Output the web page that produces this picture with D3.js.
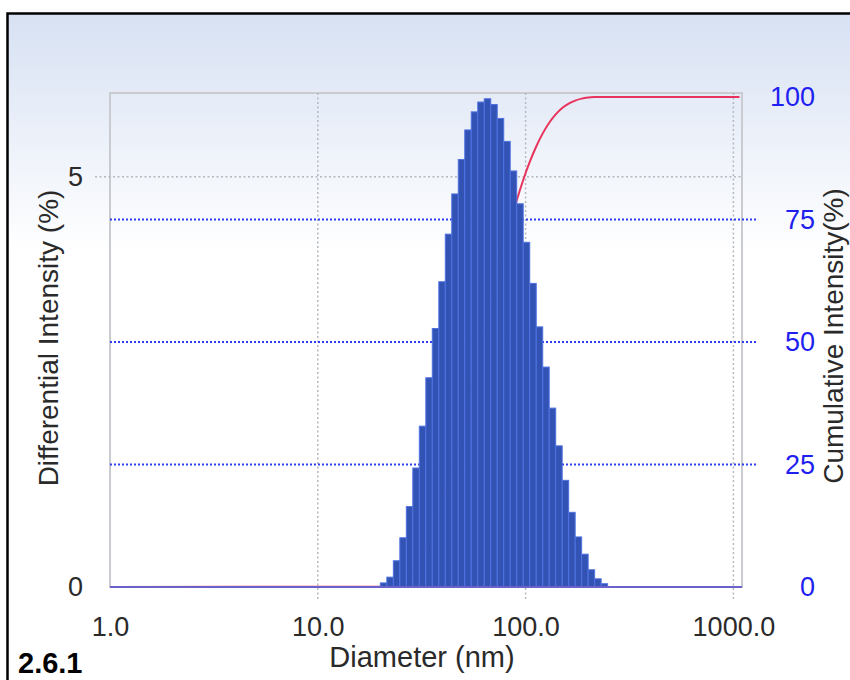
<!DOCTYPE html>
<html>
<head>
<meta charset="utf-8">
<script src="https://cdn.jsdelivr.net/npm/d3@7"></script>
<style>
  html, body { margin: 0; padding: 0; background: #ffffff; }
  svg { display: block; }
</style>
</head>
<body>
<svg id="chart" width="850" height="680"></svg>
<script>
// ---- data ----
// bin lower edges (nm); last entry is upper edge of the last bin
const binEdges = [20.0, 21.49, 23.10, 24.82, 26.67, 28.66, 30.80, 33.10, 35.56, 38.22,
  41.07, 44.13, 47.42, 50.96, 54.76, 58.85, 63.25, 67.96, 73.03, 78.48,
  84.34, 90.63, 97.39, 104.7, 112.5, 120.9, 129.9, 139.6, 150.0, 161.2,
  173.2, 186.1, 200.0, 214.9, 231.0, 248.2];
// differential intensity (%) per bin
const differential = [0.05, 0.12, 0.32, 0.60, 0.98, 1.45, 1.96, 2.55, 3.15, 3.72,
  4.30, 4.79, 5.21, 5.57, 5.79, 5.91, 5.95, 5.88, 5.71, 5.43,
  5.07, 4.67, 4.20, 3.70, 3.17, 2.68, 2.18, 1.72, 1.30, 0.91,
  0.61, 0.40, 0.21, 0.10, 0.04];
// cumulative intensity (%) curve
const cumDiameter = [1.0, 20.0, 21.49, 23.10, 24.82, 26.67, 28.66, 30.80, 33.10, 35.56, 38.22,
  41.07, 44.13, 47.42, 50.96, 54.76, 58.85, 63.25, 67.96, 73.03, 78.48,
  84.34, 90.63, 97.39, 104.7, 112.5, 120.9, 129.9, 139.6, 150.0, 161.2,
  173.2, 186.1, 200.0, 214.9, 231.0, 1070];
const cumulative = [0, 0.05, 0.17, 0.49, 1.09, 2.06, 3.51, 5.46, 8.00, 11.14, 14.84,
  19.12, 23.89, 29.08, 34.63, 40.40, 46.28, 52.21, 58.07, 63.75, 69.16,
  74.21, 78.86, 83.05, 86.73, 89.89, 92.56, 94.73, 96.44, 97.74, 98.64,
  99.25, 99.65, 99.86, 99.96, 100.0, 100.0];
const xTicks = [1, 10, 100, 1000];
const xTickLabels = ["1.0", "10.0", "100.0", "1000.0"];
const leftTicks = [0, 5];
const rightTicks = [0, 25, 50, 75, 100];
const xTitle = "Diameter (nm)";
const leftTitle = "Differential Intensity (%)";
const rightTitle = "Cumulative Intensity(%)";
const figLabel = "2.6.1";

// ---- layout ----
const svg = d3.select("#chart");
const L = 110, R = 742, T = 93, B = 587;
const font = "'Liberation Sans', Arial, sans-serif";

const x = d3.scaleLog().domain([1, 1100]).range([L, R]);
const yL = d3.scaleLinear().domain([0, 6.02]).range([B, T]);
const yR = d3.scaleLinear().domain([0, 100.8]).range([B, T]);

// background gradient
const defs = svg.append("defs");
const grad = defs.append("linearGradient").attr("id", "bg")
  .attr("x1", 0).attr("y1", 0).attr("x2", 0).attr("y2", 1);
grad.append("stop").attr("offset", "0%").attr("stop-color", "#d7e1f3");
grad.append("stop").attr("offset", "36%").attr("stop-color", "#ffffff");
grad.append("stop").attr("offset", "100%").attr("stop-color", "#ffffff");
svg.append("rect").attr("x", 7).attr("y", 13).attr("width", 843).attr("height", 667)
  .attr("fill", "url(#bg)");

// frame
svg.append("path").attr("d", "M7.5,680 V13.5 H850")
  .attr("fill", "none").attr("stroke", "#000").attr("stroke-width", 2.5);

// plot border
svg.append("rect").attr("x", L).attr("y", T).attr("width", R - L).attr("height", B - T)
  .attr("fill", "none").attr("stroke", "#c9cbd0").attr("stroke-width", 2);

// vertical gray dotted grid
svg.append("g").selectAll("line").data(xTicks.slice(1)).join("line")
  .attr("x1", d => x(d)).attr("x2", d => x(d))
  .attr("y1", T).attr("y2", B + 14)
  .attr("stroke", "#b4b8bf").attr("stroke-width", 1.5).attr("stroke-dasharray", "2,2.5");

// left axis gray dotted grid (5)
svg.append("g").selectAll("line").data(leftTicks.slice(1)).join("line")
  .attr("x1", L - 15).attr("x2", R)
  .attr("y1", d => yL(d)).attr("y2", d => yL(d))
  .attr("stroke", "#b4b8bf").attr("stroke-width", 1.5).attr("stroke-dasharray", "2,2.5");

// right axis blue dotted grid
svg.append("g").selectAll("line").data(rightTicks.slice(1, 4)).join("line")
  .attr("x1", L).attr("x2", R + 16)
  .attr("y1", d => yR(d)).attr("y2", d => yR(d))
  .attr("stroke", "#2f3cf0").attr("stroke-width", 2).attr("stroke-dasharray", "2,2");

// cumulative curve (behind bars)
const line = d3.line().x(d => x(d[0])).y(d => yR(d[1])).curve(d3.curveMonotoneX);
svg.append("path")
  .datum(cumDiameter.map((d, i) => [d, cumulative[i]]))
  .attr("d", line)
  .attr("fill", "none").attr("stroke", "#e8345c").attr("stroke-width", 2);

// bars
svg.append("g").selectAll("rect").data(differential).join("rect")
  .attr("x", (d, i) => x(binEdges[i]))
  .attr("width", (d, i) => x(binEdges[i + 1]) - x(binEdges[i]))
  .attr("y", d => yL(d))
  .attr("height", d => B - yL(d))
  .attr("fill", "#3252b4").attr("stroke", "#4f72e2").attr("stroke-width", 1);

// baseline
svg.append("line").attr("x1", L).attr("x2", R).attr("y1", B).attr("y2", B)
  .attr("stroke", "#6a62c8").attr("stroke-width", 2);

// x axis labels
const xAxis = d3.axisBottom(x).tickValues(xTicks)
  .tickFormat((d, i) => xTickLabels[i]).tickSize(0).tickPadding(0);
const gx = svg.append("g").attr("transform", `translate(0,${B + 30})`).call(xAxis);
gx.select(".domain").remove();
gx.selectAll("text").attr("font-family", font).attr("font-size", 27).attr("fill", "#2a2a2a");

// left axis labels
const yAxisL = d3.axisLeft(yL).tickValues(leftTicks).tickFormat(d3.format("d")).tickSize(0).tickPadding(0);
const gl = svg.append("g").attr("transform", `translate(${L - 27},0)`).call(yAxisL);
gl.select(".domain").remove();
gl.selectAll("text").attr("font-family", font).attr("font-size", 27).attr("fill", "#2a2a2a");

// right axis labels
const yAxisR = d3.axisRight(yR).tickValues(rightTicks).tickFormat(d3.format("d")).tickSize(0).tickPadding(0);
const gr = svg.append("g").attr("transform", `translate(${R + 73},0)`).call(yAxisR);
gr.select(".domain").remove();
gr.selectAll("text").attr("font-family", font).attr("font-size", 27).attr("fill", "#1f1ff0")
  .attr("text-anchor", "end");

// titles
svg.append("text").attr("x", 422).attr("y", 667).attr("text-anchor", "middle")
  .attr("font-family", font).attr("font-size", 29).attr("fill", "#2a2a2a").text(xTitle);
svg.append("text").attr("transform", "translate(58,338) rotate(-90)").attr("text-anchor", "middle")
  .attr("font-family", font).attr("font-size", 28).attr("fill", "#2a2a2a").text(leftTitle);
svg.append("text").attr("transform", "translate(843,336) rotate(-90)").attr("text-anchor", "middle")
  .attr("font-family", font).attr("font-size", 28).attr("fill", "#2a2a2a").text(rightTitle);

// figure label
svg.append("text").attr("x", 18).attr("y", 673)
  .attr("font-family", "'Liberation Sans', Arial, sans-serif").attr("font-weight", "bold")
  .attr("font-size", 29).attr("fill", "#000").text(figLabel);
</script>
</body>
</html>
